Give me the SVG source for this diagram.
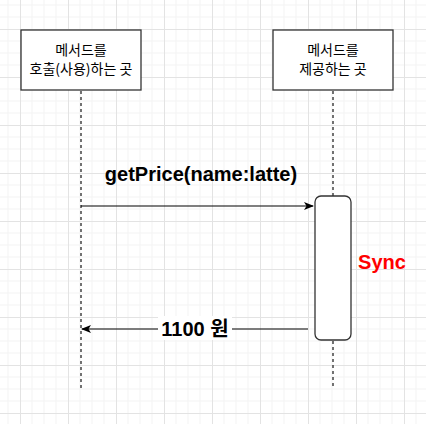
<svg xmlns="http://www.w3.org/2000/svg" width="426" height="424" viewBox="0 0 426 424">
<style>
.box{fill:#fff;stroke:#333;stroke-width:1.3}
.life{stroke:#444;stroke-width:1.5;stroke-dasharray:3,3;fill:none}
.msg{stroke:#000;stroke-width:1.2;fill:none}
.t{font-family:"Noto Sans CJK KR","Liberation Sans",sans-serif;font-size:14px;fill:#000;text-anchor:middle}
.lbl{font-family:"Liberation Sans","Noto Sans CJK KR",sans-serif;font-size:20px;font-weight:bold;fill:#000;text-anchor:middle}
</style>
<defs>
<pattern id="grid" patternUnits="userSpaceOnUse" x="20" y="29" width="48" height="48">
<path d="M0 12H48M0 24H48M0 36H48M12 0V48M24 0V48M36 0V48" stroke="#f3f3f3" stroke-width="1"/>
<path d="M0 0.5H48M0.5 0V48" stroke="#e3e3e3" stroke-width="1"/>
</pattern>
<marker id="arr" viewBox="0 0 10 10" refX="9" refY="5" markerWidth="10" markerHeight="10" markerUnits="userSpaceOnUse" orient="auto">
<path d="M0 1L10 5L0 9L2.5 5Z" fill="#000"/>
</marker>
</defs>
<rect width="426" height="424" fill="#fff"/>
<rect width="426" height="424" fill="url(#grid)"/>
<g id="connectors">
<line class="life" x1="81" y1="91" x2="81" y2="389"/>
<line class="life" x1="333" y1="91" x2="333" y2="196"/>
<line class="life" x1="333" y1="341" x2="333" y2="389"/>
<line class="msg" x1="81" y1="206" x2="313" y2="206" marker-end="url(#arr)"/>
<text class="lbl" x="201" y="181">getPrice(name:latte)</text>
<line class="msg" x1="308" y1="329" x2="82" y2="329" marker-end="url(#arr)"/>
<rect x="158" y="316" width="74" height="24" fill="#fff"/>
<text class="lbl" x="195" y="336">1100 원</text>
</g>
<g id="caller">
<rect class="box" x="21" y="30" width="120" height="60"/>
<text class="t" x="81" y="55">메서드를</text>
<text class="t" x="81" y="74">호출(사용)하는 곳</text>
</g>
<g id="provider">
<rect class="box" x="273" y="30" width="120" height="60"/>
<text class="t" x="333" y="55">메서드를</text>
<text class="t" x="333" y="74">제공하는 곳</text>
</g>
<g id="activation">
<rect class="box" x="315" y="196" width="36" height="144" rx="6"/>
</g>
<g id="sync">
<text x="382" y="269" style="font-family:'Liberation Sans',sans-serif;font-size:20px;font-weight:bold;fill:#f00;text-anchor:middle">Sync</text>
</g>
</svg>
